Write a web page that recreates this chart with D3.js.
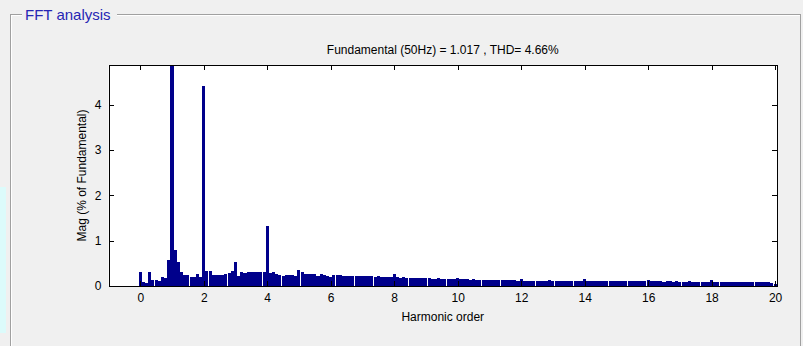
<!DOCTYPE html>
<html>
<head>
<meta charset="utf-8">
<script src="https://cdn.jsdelivr.net/npm/d3@7"></script>
<style>
  body { margin: 0; background: #f0f0f0; }
  svg { display: block; }
  .tick text { font-family: "Liberation Sans", Arial, sans-serif; font-size: 12px; fill: #000; }
</style>
</head>
<body>
<div id="chart"></div>
<script>
// FFT spectrum, one bin every 0.1 harmonic order (5 Hz at 50 Hz fundamental)
var binStep = 0.1;

// magnitude in % of fundamental, rows = harmonic 0..20
var magnitude = [
  0.30, 0.09, 0.06, 0.30, 0.13, 0.14, 0.11, 0.20, 0.17, 0.58,
  100,  0.80, 0.53, 0.30, 0.25, 0.25, 0.20, 0.20, 0.27, 0.20,
  4.42, 0.33, 0.33, 0.25, 0.25, 0.25, 0.25, 0.26, 0.28, 0.33,
  0.53, 0.23, 0.30, 0.28, 0.32, 0.31, 0.30, 0.30, 0.30, 0.31,
  1.33, 0.28, 0.31, 0.26, 0.25, 0.23, 0.25, 0.25, 0.25, 0.22,
  0.36, 0.30, 0.27, 0.27, 0.26, 0.26, 0.23, 0.26, 0.25, 0.22,
  0.20, 0.24, 0.25, 0.25, 0.23, 0.23, 0.23, 0.22, 0.21, 0.21,
  0.21, 0.21, 0.21, 0.21, 0.20, 0.21, 0.20, 0.20, 0.20, 0.19,
  0.26, 0.19, 0.18, 0.19, 0.18, 0.18, 0.17, 0.18, 0.17, 0.17,
  0.17, 0.17, 0.16, 0.16, 0.17, 0.16, 0.15, 0.16, 0.15, 0.15,
  0.17, 0.15, 0.15, 0.15, 0.14, 0.15, 0.14, 0.14, 0.14, 0.14,
  0.14, 0.14, 0.13, 0.14, 0.13, 0.13, 0.13, 0.13, 0.13, 0.12,
  0.16, 0.12, 0.12, 0.12, 0.12, 0.12, 0.12, 0.11, 0.12, 0.13,
  0.12, 0.12, 0.11, 0.12, 0.11, 0.12, 0.11, 0.11, 0.11, 0.11,
  0.15, 0.11, 0.11, 0.11, 0.11, 0.11, 0.10, 0.11, 0.10, 0.11,
  0.10, 0.10, 0.10, 0.11, 0.10, 0.10, 0.10, 0.10, 0.10, 0.10,
  0.14, 0.10, 0.10, 0.10, 0.10, 0.09, 0.10, 0.10, 0.09, 0.10,
  0.09, 0.09, 0.09, 0.10, 0.09, 0.09, 0.09, 0.09, 0.09, 0.09,
  0.13, 0.09, 0.09, 0.09, 0.09, 0.09, 0.09, 0.08, 0.09, 0.09,
  0.08, 0.09, 0.08, 0.08, 0.08, 0.08, 0.08, 0.08, 0.08, 0.07,
  0.05
];

var xTicks = [0, 2, 4, 6, 8, 10, 12, 14, 16, 18, 20];
var yTicks = [0, 1, 2, 3, 4];
var xDomain = [-1, 20.06];
var yDomain = [0, 4.88];

var titleText = "Fundamental (50Hz) = 1.017 , THD= 4.66%";
var xLabel = "Harmonic order";
var yLabel = "Mag (% of Fundamental)";
var panelTitle = "FFT analysis";

var svgWidth = 803;
var svgHeight = 346;
var plot = { left: 108.5, right: 777, top: 65, bottom: 286 };

var svg = d3.select("#chart")
  .append("svg")
  .attr("width", svgWidth)
  .attr("height", svgHeight);

svg.append("rect")
  .attr("width", svgWidth)
  .attr("height", svgHeight)
  .attr("fill", "#f0f0f0");

// pale strip at the far left edge
svg.append("rect")
  .attr("x", 0).attr("y", 187)
  .attr("width", 6).attr("height", 146)
  .attr("fill", "#dcfbfb");

// group box around the panel
var box = svg.append("g").attr("fill", "none").attr("shape-rendering", "crispEdges");
box.append("path")
  .attr("d", "M10.5,346 V14.5 H22 M117,14.5 H800.5 V346")
  .attr("stroke", "#a0a0a0");
box.append("path")
  .attr("d", "M11.5,346 V15.5 H22 M117,15.5 H799.5")
  .attr("stroke", "#ffffff");

svg.append("text")
  .attr("x", 25)
  .attr("y", 20)
  .attr("font-family", "Liberation Sans, Arial, sans-serif")
  .attr("font-size", 15)
  .attr("fill", "#2626b4")
  .text(panelTitle);

var x = d3.scaleLinear().domain(xDomain).range([plot.left, plot.right]);
var y = d3.scaleLinear().domain(yDomain).range([plot.bottom, plot.top]);

svg.append("rect")
  .attr("x", plot.left).attr("y", plot.top)
  .attr("width", plot.right - plot.left)
  .attr("height", plot.bottom - plot.top)
  .attr("fill", "#ffffff");

svg.append("clipPath").attr("id", "plotClip")
  .append("rect")
  .attr("x", plot.left).attr("y", plot.top)
  .attr("width", plot.right - plot.left)
  .attr("height", plot.bottom - plot.top);

var barW = (x(binStep) - x(0)) * 0.96;

svg.append("g")
  .attr("clip-path", "url(#plotClip)")
  .attr("shape-rendering", "crispEdges")
  .selectAll("rect")
  .data(magnitude)
  .enter()
  .append("rect")
  .attr("x", (d, i) => x(i * binStep) - barW / 2)
  .attr("width", barW)
  .attr("y", d => y(Math.min(d, yDomain[1] + 1)))
  .attr("height", d => plot.bottom - y(Math.min(d, yDomain[1] + 1)))
  .attr("fill", "#00008b");

// axes with inward ticks on all four sides
var bottomAxis = d3.axisBottom(x).tickValues(xTicks).tickSizeInner(-5).tickSizeOuter(0).tickPadding(7).tickFormat(d3.format("d"));
var topAxis = d3.axisTop(x).tickValues(xTicks).tickSizeInner(-5).tickSizeOuter(0).tickFormat("");
var leftAxis = d3.axisLeft(y).tickValues(yTicks).tickSizeInner(-5).tickSizeOuter(0).tickPadding(7).tickFormat(d3.format("d"));
var rightAxis = d3.axisRight(y).tickValues(yTicks).tickSizeInner(-5).tickSizeOuter(0).tickFormat("");

svg.append("g").attr("transform", `translate(0, ${plot.bottom})`).call(bottomAxis);
svg.append("g").attr("transform", `translate(0, ${plot.top})`).call(topAxis);
svg.append("g").attr("transform", `translate(${plot.left}, 0)`).call(leftAxis);
svg.append("g").attr("transform", `translate(${plot.right}, 0)`).call(rightAxis);

svg.selectAll(".domain, .tick line").attr("stroke", "#000").attr("shape-rendering", "crispEdges");

svg.append("text")
  .attr("x", (plot.left + plot.right) / 2)
  .attr("y", 54)
  .attr("text-anchor", "middle")
  .attr("font-family", "Liberation Sans, Arial, sans-serif")
  .attr("font-size", 12)
  .text(titleText);

svg.append("text")
  .attr("x", (plot.left + plot.right) / 2)
  .attr("y", 321)
  .attr("text-anchor", "middle")
  .attr("font-family", "Liberation Sans, Arial, sans-serif")
  .attr("font-size", 12)
  .text(xLabel);

svg.append("text")
  .attr("transform", `translate(86, ${(plot.top + plot.bottom) / 2}) rotate(-90)`)
  .attr("text-anchor", "middle")
  .attr("font-family", "Liberation Sans, Arial, sans-serif")
  .attr("font-size", 12)
  .text(yLabel);
</script>
</body>
</html>
